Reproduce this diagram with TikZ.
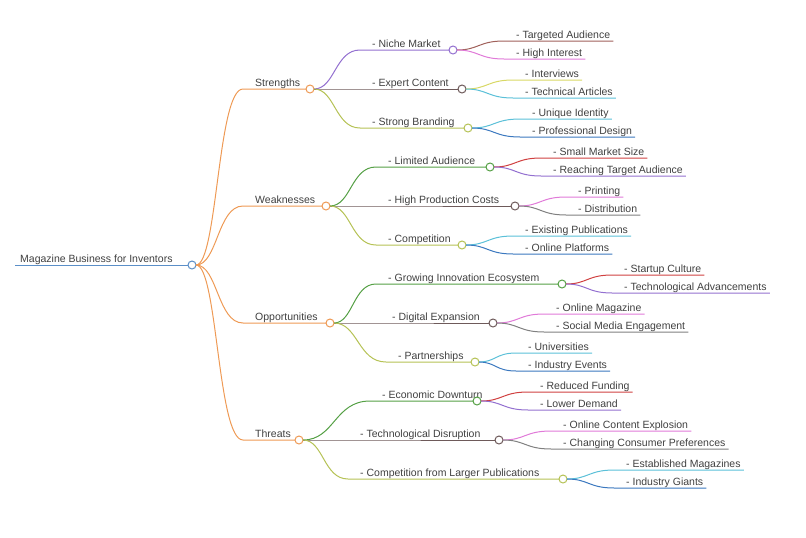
\documentclass[tikz,border=0pt]{standalone}
\usepackage{fontspec}
\setmainfont{Liberation Sans}
\usetikzlibrary{calc}
\begin{document}
\definecolor{cor}{HTML}{EE9A55}
\definecolor{cpu}{HTML}{9370D0}
\definecolor{cdk}{HTML}{6E5A5A}
\definecolor{col}{HTML}{B5C255}
\definecolor{cgr}{HTML}{55A045}
\definecolor{cbr}{HTML}{A0605A}
\definecolor{cpk}{HTML}{E07AD8}
\definecolor{cye}{HTML}{D8D865}
\definecolor{ccy}{HTML}{5BC0D8}
\definecolor{cbl}{HTML}{3B78BF}
\definecolor{crd}{HTML}{D04040}
\definecolor{cgy}{HTML}{808080}
\definecolor{crt}{HTML}{5B8FC8}
\begin{tikzpicture}[x=1pt,y=-1pt,
  txt/.style={font=\fontsize{10.5}{12}\selectfont,text=black!75,inner sep=0pt},
  ln/.style={line width=1pt},
  circ/.style={circle,line width=1pt,fill=white,minimum size=8pt,inner sep=0pt}]
\useasboundingbox (0,0) rectangle (806,538);
\newcommand\brc[8]{%
 \draw[#1,ln] (#2+4,#3) .. controls ({(#2+#4)/2},#3) and ({(#2+#4)/2},#5) .. (#4,#5) -- (#6-4,#5);
 \node[txt,anchor=base west] (#8) at (#4+12,#5-3) {#7};
 \node[circ,draw=#1] (#8c) at (#6,#5) {};}
\newcommand\lf[7]{%
 \node[txt,anchor=base west] (#7) at (#4+12,#5-3) {#6};
 \coordinate (#7s) at (#4,#5);
 \draw[#1,ln] (#2+4,#3) .. controls ({(#2+#4)/2},#3) and ({(#2+#4)/2},#5) .. (#7s) -- ($(#7.east |- #7s)+(3,0)$);}
\node[txt,anchor=base west] (root) at (20,262) {Magazine Business for Inventors};
\draw[crt,ln] (15,265) -- (188,265);
\node[circ,draw=crt] (rootc) at (192,265) {};
% level 1
\brc{cor}{192}{265}{243}{89}{310}{Strengths}{s}
\brc{cor}{192}{265}{243}{206}{326}{Weaknesses}{w}
\brc{cor}{192}{265}{243}{323}{330}{Opportunities}{o}
\brc{cor}{192}{265}{243}{440}{299}{Threats}{t}
% strengths
\brc{cpu}{310}{89}{360}{50}{453}{- Niche Market}{s1}
\brc{cdk}{310}{89}{360}{89}{462}{- Expert Content}{s2}
\brc{col}{310}{89}{360}{128}{468}{- Strong Branding}{s3}
\lf{cbr}{453}{50}{504}{41}{- Targeted Audience}{s11}
\lf{cpk}{453}{50}{504}{59}{- High Interest}{s12}
\lf{cye}{462}{89}{513}{80}{- Interviews}{s21}
\lf{ccy}{462}{89}{513}{98}{- Technical Articles}{s22}
\lf{ccy}{468}{128}{520}{119}{- Unique Identity}{s31}
\lf{cbl}{468}{128}{520}{137}{- Professional Design}{s32}
% weaknesses
\brc{cgr}{326}{206}{376}{167}{490}{- Limited Audience}{w1}
\brc{cdk}{326}{206}{376}{206}{515}{- High Production Costs}{w2}
\brc{col}{326}{206}{376}{245}{462}{- Competition}{w3}
\lf{crd}{490}{167}{541}{158}{- Small Market Size}{w11}
\lf{cpu}{490}{167}{541}{176}{- Reaching Target Audience}{w12}
\lf{cpk}{515}{206}{566}{197}{- Printing}{w21}
\lf{cgy}{515}{206}{566}{215}{- Distribution}{w22}
\lf{ccy}{462}{245}{513}{236}{- Existing Publications}{w31}
\lf{cbl}{462}{245}{513}{254}{- Online Platforms}{w32}
% opportunities
\brc{cgr}{330}{323}{376}{284}{562}{- Growing Innovation Ecosystem}{o1}
\brc{cdk}{330}{323}{380}{323}{493}{- Digital Expansion}{o2}
\brc{col}{330}{323}{386}{362}{475}{- Partnerships}{o3}
\lf{crd}{562}{284}{612}{275}{- Startup Culture}{o11}
\lf{cpu}{562}{284}{612}{293}{- Technological Advancements}{o12}
\lf{cpk}{493}{323}{544}{314}{- Online Magazine}{o21}
\lf{cgy}{493}{323}{544}{332}{- Social Media Engagement}{o22}
\lf{ccy}{475}{362}{516}{353}{- Universities}{o31}
\lf{cbl}{475}{362}{516}{371}{- Industry Events}{o32}
% threats
\brc{cgr}{299}{440}{370}{401}{477}{- Economic Downturn}{t1}
\brc{cdk}{299}{440}{348}{440}{499}{- Technological Disruption}{t2}
\brc{col}{299}{440}{348}{479}{563}{- Competition from Larger Publications}{t3}
\lf{crd}{477}{401}{528}{392}{- Reduced Funding}{t11}
\lf{cpu}{477}{401}{528}{410}{- Lower Demand}{t12}
\lf{cpk}{499}{440}{551}{431}{- Online Content Explosion}{t21}
\lf{cgy}{499}{440}{551}{449}{- Changing Consumer Preferences}{t22}
\lf{ccy}{563}{479}{614}{470}{- Established Magazines}{t31}
\lf{cbl}{563}{479}{614}{488}{- Industry Giants}{t32}
\end{tikzpicture}
\end{document}
